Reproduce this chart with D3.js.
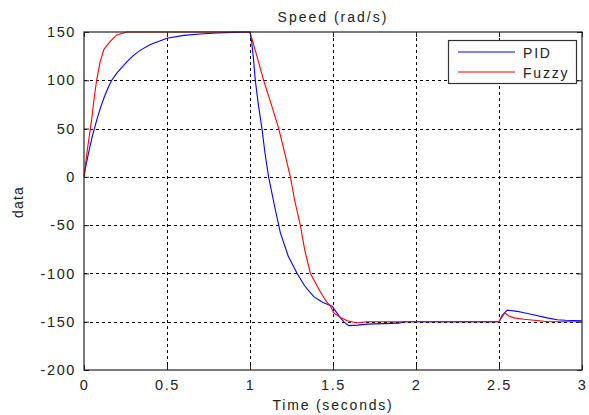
<!DOCTYPE html>
<html>
<head>
<meta charset="utf-8">
<script src="https://cdn.jsdelivr.net/npm/d3@7/dist/d3.min.js"></script>
<style>
  html, body { margin: 0; padding: 0; background: #fff; }
  svg text { font-family: "Liberation Sans", Arial, sans-serif; fill: #222; }
</style>
</head>
<body>
<svg id="chart" width="589" height="415"></svg>
<script>
// ---- data ----
const xTicks = [0, 0.5, 1, 1.5, 2, 2.5, 3];
const xTickLabels = ["0", "0.5", "1", "1.5", "2", "2.5", "3"];
const yTicks = [-200, -150, -100, -50, 0, 50, 100, 150];
const yTickLabels = ["-200", "-150", "-100", "-50", "0", "50", "100", "150"];

const pidTime = [0, 0.01, 0.03, 0.05, 0.077, 0.1, 0.125, 0.15, 0.167, 0.2, 0.258, 0.3, 0.338, 0.4, 0.5, 0.6, 0.7, 0.8, 0.9, 1.0,
  1.01, 1.02, 1.032, 1.05, 1.072, 1.09, 1.112, 1.15, 1.183, 1.23, 1.284, 1.33, 1.384, 1.44, 1.495, 1.52, 1.545, 1.57, 1.595,
  1.65, 1.706, 1.8, 1.897, 1.93, 2.0, 2.5, 2.52, 2.55, 2.6, 2.63, 2.7, 2.79, 2.85, 2.9, 3.0];
const pidSpeed = [0, 10, 27, 42, 59, 72, 84, 94, 100, 108, 119, 126, 131, 137, 143.5, 146.5, 148, 149, 149.6, 150,
  140, 124, 100, 75, 50, 25, 0, -32, -58, -82, -100, -113, -124, -130, -134, -140, -146, -151, -154,
  -153.5, -152.5, -152, -151.5, -150, -150, -150, -143, -138, -139, -140, -142.5, -146, -148, -148.5, -149];

const fuzzyTime = [0, 0.02, 0.04, 0.046, 0.06, 0.076, 0.097, 0.12, 0.157, 0.197, 0.26, 1.0,
  1.04, 1.082, 1.13, 1.173, 1.21, 1.243, 1.27, 1.303, 1.33, 1.364, 1.42, 1.46, 1.485, 1.505, 1.55, 1.585, 1.646, 1.7,
  2.5, 2.535, 2.56, 2.59, 2.65, 2.71, 2.8, 3.0];
const fuzzySpeed = [0, 28, 52, 59, 80, 100, 119, 132, 140, 147, 150, 150,
  126, 100, 74, 50, 24, 0, -25, -50, -76, -100, -118, -129, -134, -141, -146, -149, -151.3, -150,
  -150, -141, -144, -146, -147.5, -148.5, -150, -150];

const seriesNames = ["PID", "Fuzzy"];
const seriesColors = ["#0000ff", "#ff0000"];

const titleText = "Speed (rad/s)";
const xLabelText = "Time (seconds)";
const yLabelText = "data";

// ---- layout ----
const svg = d3.select("#chart");
const L = 84, R = 582, T = 32, B = 370;
const x = d3.scaleLinear().domain([0, 3]).range([L, R]);
const y = d3.scaleLinear().domain([-200, 150]).range([B, T]);

// grid
const grid = svg.append("g");
grid.selectAll(".gx").data(xTicks.filter(d => d > 0 && d < 3)).enter().append("line")
  .attr("x1", d => Math.round(x(d)) + 0.5).attr("x2", d => Math.round(x(d)) + 0.5)
  .attr("y1", T).attr("y2", B)
  .attr("stroke", "#000").attr("stroke-width", 1).attr("stroke-dasharray", "3,3");
grid.selectAll(".gy").data(yTicks.filter(d => d > -200 && d < 150)).enter().append("line")
  .attr("y1", d => Math.round(y(d)) + 0.5).attr("y2", d => Math.round(y(d)) + 0.5)
  .attr("x1", L).attr("x2", R)
  .attr("stroke", "#000").attr("stroke-width", 1).attr("stroke-dasharray", "3,3");

// lines
const line = d3.line().x(d => x(d[0])).y(d => y(d[1]));
const pidData = pidTime.map((t, i) => [t, pidSpeed[i]]);
const fuzzyData = fuzzyTime.map((t, i) => [t, fuzzySpeed[i]]);
svg.append("path").datum(pidData).attr("d", line)
  .attr("fill", "none").attr("stroke", seriesColors[0]).attr("stroke-width", 1.1);
svg.append("path").datum(fuzzyData).attr("d", line)
  .attr("fill", "none").attr("stroke", seriesColors[1]).attr("stroke-width", 1.1);

// axes (box + inward ticks)
const tickFmt = (labels, ticks) => (d) => labels[ticks.indexOf(d)];
const axB = d3.axisBottom(x).tickValues(xTicks).tickSize(-5).tickPadding(10).tickFormat(tickFmt(xTickLabels, xTicks));
const axL = d3.axisLeft(y).tickValues(yTicks).tickSize(-5).tickPadding(8).tickFormat(tickFmt(yTickLabels, yTicks));
const axT = d3.axisTop(x).tickValues(xTicks).tickSize(-5).tickFormat("");
const axR = d3.axisRight(y).tickValues(yTicks).tickSize(-5).tickFormat("");

function style(g) {
  g.select(".domain").attr("stroke", "#222").attr("stroke-width", 1.2);
  g.selectAll(".tick line").attr("stroke", "#222");
  g.selectAll("text").attr("font-size", 14.5).attr("fill", "#222")
    .style("letter-spacing", "1.6px").style("font-family", "Liberation Sans, Arial, sans-serif");
}
svg.append("g").attr("transform", `translate(0,${B})`).call(axB).call(style).call(g => g.selectAll("text").attr("dy", "0.71em"));
svg.append("g").attr("transform", `translate(${L},0)`).call(axL).call(style);
svg.append("g").attr("transform", `translate(0,${T})`).call(axT).call(style);
svg.append("g").attr("transform", `translate(${R},0)`).call(axR).call(style);
svg.selectAll(".domain").attr("d", null);
svg.append("rect").attr("x", L).attr("y", T).attr("width", R - L).attr("height", B - T)
  .attr("fill", "none").attr("stroke", "#222").attr("stroke-width", 1.2);

// title and labels
svg.append("text").attr("x", 333).attr("y", 22).attr("text-anchor", "middle")
  .attr("font-size", 14).style("letter-spacing", "2px").text(titleText);
svg.append("text").attr("x", 333).attr("y", 410).attr("text-anchor", "middle")
  .attr("font-size", 14).style("letter-spacing", "1.8px").text(xLabelText);
svg.append("text").attr("transform", "translate(23,202) rotate(-90)").attr("text-anchor", "middle")
  .attr("font-size", 14).style("letter-spacing", "1.2px").text(yLabelText);

// legend
const lg = svg.append("g");
lg.append("rect").attr("x", 448.5).attr("y", 40.5).attr("width", 128).attr("height", 43)
  .attr("fill", "#fff").attr("stroke", "#333").attr("stroke-width", 1.2);
seriesNames.forEach((n, i) => {
  const yy = 52 + i * 20;
  lg.append("line").attr("x1", 458).attr("x2", 515).attr("y1", yy).attr("y2", yy)
    .attr("stroke", seriesColors[i]).attr("stroke-width", 1.1);
  lg.append("text").attr("x", 523).attr("y", yy + 6).attr("font-size", 14)
    .style("letter-spacing", "1.8px").text(n);
});
</script>
</body>
</html>
